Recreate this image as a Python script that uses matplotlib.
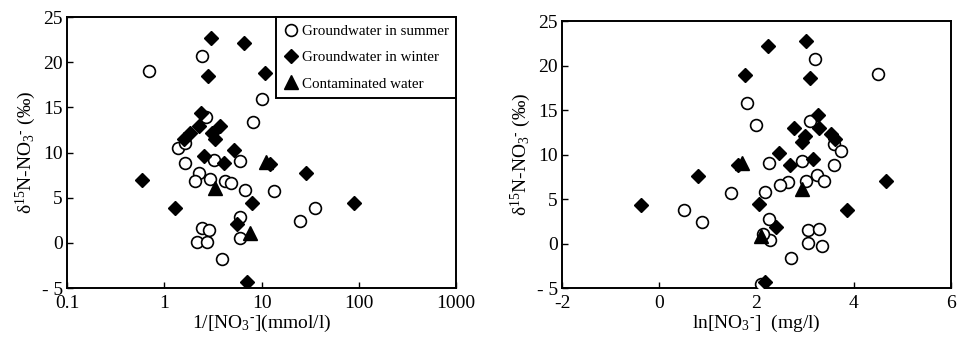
import matplotlib
matplotlib.use("Agg")
import matplotlib.pyplot as plt
from matplotlib.ticker import FixedLocator, FixedFormatter

plt.rcParams['font.family'] = ['Liberation Serif', 'DejaVu Serif']
plt.rcParams['mathtext.fontset'] = 'custom'
plt.rcParams['mathtext.rm'] = 'Liberation Serif'
plt.rcParams['mathtext.it'] = 'Liberation Serif:italic'
plt.rcParams['axes.unicode_minus'] = False

# left panel: 1/[NO3-] (mmol/l) vs d15N
summer_inv = [0.70, 2.42, 10.2, 8.2, 2.66, 1.39, 1.63, 1.63, 3.26, 5.98, 2.29, 2.08, 2.97,
              4.24, 4.84, 6.79, 13.5, 35.6, 24.9, 5.98, 2.42, 2.90, 2.18, 2.76, 5.98, 3.88]
summer_d15n_l = [19.0, 20.7, 15.9, 13.4, 13.96, 10.46, 11.08, 8.8, 9.17, 9.06, 7.78, 6.9, 7.04,
                 6.85, 6.6, 5.86, 5.7, 3.84, 2.37, 2.83, 1.6, 1.45, 0.06, 0.12, 0.5, -1.8]
winter_inv = [3.01, 6.53, 10.9, 2.81, 2.37, 2.29, 1.84, 1.59, 3.73, 3.07, 3.32, 2.57, 4.13,
              5.2, 12.2, 0.585, 28.6, 7.89, 1.29, 90.2, 5.53, 7.01]
winter_d15n_l = [22.68, 22.17, 18.85, 18.45, 14.34, 12.93, 12.13, 11.5, 12.93, 12.13, 11.46,
                 9.61, 8.87, 10.28, 8.73, 6.95, 7.7, 4.44, 3.82, 4.39, 2.08, -4.3]
contam_inv = [3.33, 11.0, 7.59]
contam_d15n_l = [6.05, 9.0, 1.05]

# right panel: ln[NO3-] (mg/l) vs d15N
summer_ln = [4.50, 3.20, 1.80, 1.99, 3.11, 3.60, 3.74, 2.25, 2.94, 3.60, 3.25, 3.02, 3.38, 2.64,
             2.48, 1.48, 2.18, 0.50, 0.88, 2.25, 3.05, 3.28, 3.05, 3.34, 2.28, 2.71, 2.14, 2.09]
summer_d15n_r = [19.0, 20.7, 15.8, 13.35, 13.8, 11.2, 10.4, 9.0, 9.3, 8.8, 7.75, 7.0, 7.0, 6.9,
                 6.56, 5.72, 5.84, 3.8, 2.4, 2.7, 1.52, 1.65, 0.06, -0.27, 0.42, -1.6, 1.1, -4.5]
winter_ln = [3.02, 2.24, 1.76, 3.11, 3.26, 2.78, 3.29, 3.53, 3.62, 3.00, 2.93, 2.46, 2.69, 3.16,
             1.61, 0.79, -0.38, 4.66, 3.86, 2.06, 2.40, 2.18]
winter_d15n_r = [22.7, 22.2, 18.9, 18.6, 14.4, 13.0, 13.0, 12.3, 11.7, 12.1, 11.4, 10.2, 8.8, 9.5,
                 8.8, 7.64, 4.37, 7.0, 3.8, 4.4, 1.8, -4.35]
contam_ln = [1.70, 2.93, 2.09]
contam_d15n_r = [9.0, 6.1, 0.9]

y_ticks = [-5, 0, 5, 10, 15, 20, 25]
y_labels = ['- 5', '0', '5', '10', '15', '20', '25']
ylabel = r'δ$^{15}$N-NO$_3$$^{\text{-}}$ (‰)'


def draw(ax, xs, ys):
    ax.plot(xs[0], ys[0], 'o', ms=8.5, mfc='white', mec='black', mew=1.2, ls='none',
            label='Groundwater in summer', zorder=3)
    ax.plot(xs[1], ys[1], 'D', ms=7, mfc='black', mec='black', ls='none',
            label='Groundwater in winter', zorder=3)
    ax.plot(xs[2], ys[2], '^', ms=10, mfc='black', mec='black', ls='none',
            label='Contaminated water', zorder=4)
    ax.set_ylim(-5, 25)
    ax.yaxis.set_major_locator(FixedLocator(y_ticks))
    ax.yaxis.set_major_formatter(FixedFormatter(y_labels))
    ax.set_ylabel(ylabel, fontsize=14, labelpad=3)
    ax.tick_params(direction='in', length=4, width=1, labelsize=14, pad=3)
    ax.tick_params(axis='x', pad=5)
    for s in ax.spines.values():
        s.set_linewidth(1.4)


fig = plt.figure(figsize=(9.66, 3.39), dpi=100)
ax1 = fig.add_axes([0.0694, 0.1504, 0.4027, 0.7994])
ax2 = fig.add_axes([0.5818, 0.1504, 0.4027, 0.7876])

draw(ax1, [summer_inv, winter_inv, contam_inv], [summer_d15n_l, winter_d15n_l, contam_d15n_l])
ax1.set_xscale('log')
ax1.set_xlim(0.1, 1000)
ax1.xaxis.set_major_locator(FixedLocator([0.1, 1, 10, 100, 1000]))
ax1.xaxis.set_major_formatter(FixedFormatter(['0.1', '1', '10', '100', '1000']))
ax1.xaxis.set_minor_locator(FixedLocator([]))
ax1.set_xlabel(r'1/[NO$_3$$^{\text{-}}$](mmol/l)', fontsize=14, labelpad=1)
leg = ax1.legend(loc='upper right', borderaxespad=0, fontsize=10.8, fancybox=False,
                 edgecolor='black', framealpha=1, handletextpad=0.2, borderpad=0.5,
                 labelspacing=0.85, handlelength=1.0)
leg.get_frame().set_linewidth(1.4)

draw(ax2, [summer_ln, winter_ln, contam_ln], [summer_d15n_r, winter_d15n_r, contam_d15n_r])
ax2.set_xlim(-2, 6)
ax2.xaxis.set_major_locator(FixedLocator([-2, 0, 2, 4, 6]))
ax2.set_xlabel(r'ln[NO$_3$$^{\text{-}}$]  (mg/l)', fontsize=14, labelpad=1)

fig.savefig('out.png', dpi=100)
